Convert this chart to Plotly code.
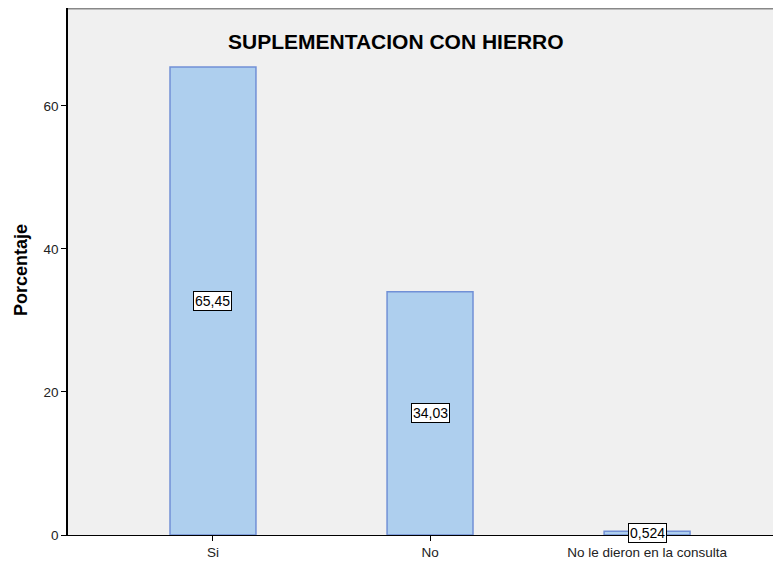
import plotly.graph_objects as go

categories = ["Si", "No", "No le dieron en la consulta"]
values = [65.45, 34.03, 0.524]
value_labels = ["65,45", "34,03", "0,524"]
y_ticks = [0, 20, 40, 60]

FONT = "Liberation Sans, Arial"
# page has 8px body margin; figure placed at (8, 8) in the 781x564 window
W, H = 773, 556
ML, MT, MB = 60, 0, 29
PW, PH = W - ML, H - MT - MB

fig = go.Figure()
fig.add_trace(go.Bar(
    x=list(range(len(categories))),
    y=values,
    width=0.396,
    marker=dict(color="#AECFEE", line=dict(color="#7190D6", width=1.5)),
    hoverinfo="skip",
))

for i, (v, t) in enumerate(zip(values, value_labels)):
    fig.add_annotation(
        x=i, y=v / 2, xref="x", yref="y", text=t, showarrow=False,
        font=dict(family=FONT, size=14, color="black"),
        bgcolor="white", bordercolor="black", borderwidth=1, borderpad=1,
    )

# title
fig.add_annotation(
    x=(388 - ML) / PW, y=1 - 34 / PH, xref="paper", yref="paper", yanchor="middle",
    text="<b>SUPLEMENTACION CON HIERRO</b>", showarrow=False,
    font=dict(family=FONT, size=21, color="black"),
)
# y axis title
fig.add_annotation(
    x=(13 - ML) / PW, y=1 - 262 / PH, xref="paper", yref="paper",
    xanchor="center", yanchor="middle", textangle=-90,
    text="<b>Porcentaje</b>", showarrow=False,
    font=dict(family=FONT, size=18, color="black"),
)

fig.add_shape(type="line", xref="paper", yref="paper", x0=0, x1=1, y0=1, y1=1,
              line=dict(color="#888888", width=3))

fig.update_layout(
    width=W, height=H,
    margin=dict(l=ML, r=0, t=MT, b=MB, pad=0),
    paper_bgcolor="white",
    plot_bgcolor="#F0F0F0",
    showlegend=False,
    font=dict(family=FONT, size=13.5, color="#222222"),
)
fig.update_xaxes(
    range=[-0.668, 2.617],
    tickvals=list(range(len(categories))), ticktext=categories,
    ticks="outside", ticklen=5, tickcolor="black",
    showline=True, linecolor="black", linewidth=1,
    showgrid=False, zeroline=False,
    tickfont=dict(size=13.5, color="#222222"),
)
fig.update_yaxes(
    range=[0, 73.7], tickvals=y_ticks,
    ticks="outside", ticklen=5, tickcolor="black",
    showline=True, linecolor="black", linewidth=1.5,
    showgrid=False, zeroline=False,
    tickfont=dict(size=13.5, color="#222222"),
)

fig.write_html("out.html")
